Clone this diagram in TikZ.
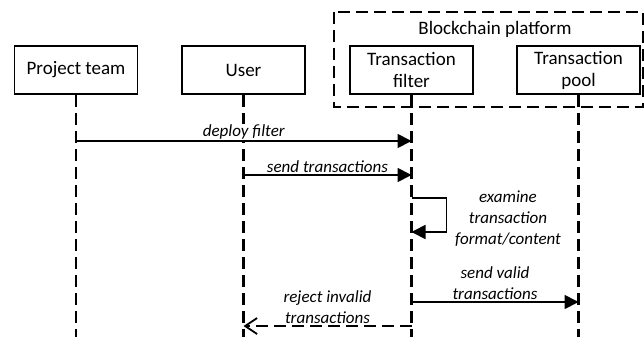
\documentclass[tikz,border=0pt]{standalone}
\usepackage{fontspec}
\setmainfont{Carlito}
\usetikzlibrary{positioning, arrows.meta}

\tikzset{
  actor/.style={draw, line width=1.8pt, minimum width=123pt, minimum height=48pt,
    inner sep=0pt, align=center, font=\fontsize{19}{22}\selectfont},
  lifeline/.style={line width=2.4pt, dash pattern=on 12pt off 6pt},
  msg/.style={line width=1.8pt, -{Triangle[length=14pt,width=14pt]}},
  reply/.style={line width=1.8pt, dash pattern=on 12pt off 6pt, -{Straight Barb[length=12pt,width=16pt]}},
  lbl/.style={font=\fontsize{17}{21}\selectfont\itshape, align=center, inner sep=1pt, fill=white}
}

\begin{document}
\begin{tikzpicture}[x=1pt,y=-1pt]
\useasboundingbox (0,0) rectangle (644,337);

% platform frame
\draw[line width=1.8pt, dash pattern=on 12pt off 6pt] (334,12) rectangle (643,107);
\node[font=\fontsize{19}{22}\selectfont] (platform) at (495,29) {Blockchain platform};

% actors
\node[actor] (team) at (76,70) {Project team};
\node[actor] (user) at (243.5,70) {User};
\node[actor] (filter) at (411.5,70) {Transaction\\filter};
\node[actor] (pool) at (578.5,70) {Transaction\\pool};

% lifelines
\coordinate (team-end) at (76,337);
\coordinate (user-end) at (243.5,337);
\coordinate (filter-end) at (411.5,337);
\coordinate (pool-end) at (578.5,337);
\draw[lifeline] (team) -- (team-end);
\draw[lifeline] (user) -- (user-end);
\draw[lifeline] (filter) -- (filter-end);
\draw[lifeline] (pool) -- (pool-end);

% messages
\coordinate (t1) at (76,141);   \coordinate (f1) at (411.5,141);
\coordinate (u2) at (243.5,175); \coordinate (f2) at (411.5,175);
\coordinate (f3) at (411.5,198); \coordinate (f4) at (411.5,232);
\coordinate (f5) at (411.5,302); \coordinate (p5) at (578.5,302);
\coordinate (f6) at (411.5,326); \coordinate (u6) at (243.5,326);

\draw[msg] (t1) -- node[lbl, above] {deploy filter} (f1);
\draw[msg] (u2) -- node[lbl, above] {send transactions} (f2);
\draw[msg] (f3) -- ++(35,0) |- (f4);
\node[lbl] (examine) at (508,219) {examine\\transaction\\format/content};
\draw[msg] (f5) -- node[lbl, above] {send valid\\transactions} (p5);
\draw[reply] (f6) -- node[lbl, above] {reject invalid\\transactions} (u6);
\end{tikzpicture}
\end{document}
